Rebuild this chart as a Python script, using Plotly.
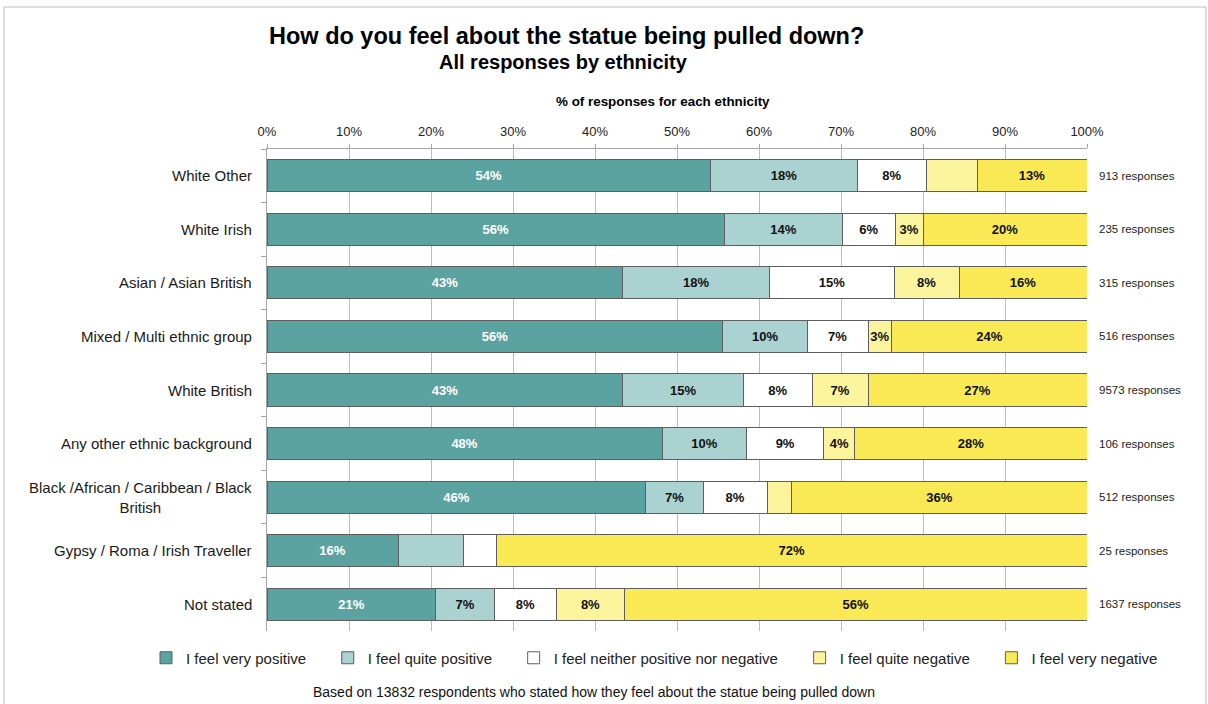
import plotly.graph_objects as go

# Ethnic groups, top to bottom
categories = [
    "White Other",
    "White Irish",
    "Asian / Asian British",
    "Mixed / Multi ethnic group",
    "White British",
    "Any other ethnic background",
    "Black /African / Caribbean / Black British",
    "Gypsy / Roma / Irish Traveller",
    "Not stated",
]
category_labels = [
    "White Other",
    "White Irish",
    "Asian / Asian British",
    "Mixed / Multi ethnic group",
    "White British",
    "Any other ethnic background",
    "Black /African / Caribbean / Black<br>British",
    "Gypsy / Roma / Irish Traveller",
    "Not stated",
]

# Share of responses (%) per feeling
very_positive = [54.1, 55.8, 43.4, 55.6, 43.4, 48.2, 46.2, 16.0, 20.6]
quite_positive = [17.9, 14.4, 17.9, 10.3, 14.7, 10.3, 7.0, 8.0, 7.1]
neither = [8.4, 6.4, 15.2, 7.4, 8.4, 9.4, 7.8, 4.0, 7.6]
quite_negative = [6.2, 3.4, 7.9, 2.9, 6.8, 3.8, 3.0, 0.0, 8.3]
very_negative = [13.4, 20.0, 15.6, 23.8, 26.7, 28.3, 36.0, 72.0, 56.4]

# Which segments carry a percentage label
show_very_positive = [True] * 9
show_quite_positive = [True, True, True, True, True, True, True, False, True]
show_neither = [True, True, True, True, True, True, True, False, True]
show_quite_negative = [False, True, True, True, True, True, False, False, True]
show_very_negative = [True] * 9

responses = [913, 235, 315, 516, 9573, 106, 512, 25, 1637]

x_ticks = list(range(0, 101, 10))
x_tick_labels = [f"{t}%" for t in x_ticks]

series = [
    ("I feel very positive", very_positive, show_very_positive, "#5BA3A0", "white"),
    ("I feel quite positive", quite_positive, show_quite_positive, "#A9D2D0", "#111111"),
    ("I feel neither positive nor negative", neither, show_neither, "#FFFFFF", "#111111"),
    ("I feel quite negative", quite_negative, show_quite_negative, "#FCF49C", "#111111"),
    ("I feel very negative", very_negative, show_very_negative, "#F9EA55", "#111111"),
]

FONT = "Liberation Sans, Arial, Helvetica, sans-serif"
LEGEND_PAD = "\u00a0" * 4  # extra spacing between legend entries

fig = go.Figure()
for name, vals, shows, color, tcolor in series:
    fig.add_trace(go.Bar(
        name=name + LEGEND_PAD,
        y=categories,
        x=vals,
        orientation="h",
        marker=dict(color=color, line=dict(color="#5E5E5E", width=1)),
        text=[f"{v:.0f}%" if s else "" for v, s in zip(vals, shows)],
        textposition="inside",
        insidetextanchor="middle",
        textangle=0,
        constraintext="none",
        textfont=dict(family=FONT, size=13, color=tcolor, weight="bold"),
        cliponaxis=False,
        hoverinfo="skip",
    ))

# plot-area geometry (pixels) used to place text outside the axes
L, R, T, B = 267, 1087, 149, 631
W, H = R - L, B - T


def px(x):
    return (x - L) / W


def py(y):
    return (B - y) / H


annotations = []
for cat, lab, n in zip(categories, category_labels, responses):
    annotations.append(dict(
        x=px(254), xref="paper", y=cat, yref="y", text=lab,
        xanchor="right", yanchor="middle", align="center", showarrow=False,
        font=dict(family=FONT, size=15, color="#1A1A1A"),
    ))
    annotations.append(dict(
        x=px(1097), xref="paper", y=cat, yref="y", text=f"{n} responses",
        xanchor="left", yanchor="middle", align="left", showarrow=False,
        font=dict(family=FONT, size=11.5, color="#222222"),
    ))

annotations += [
    dict(x=px(566), y=py(36), xref="paper", yref="paper", showarrow=False,
         text="<b>How do you feel about the statue being pulled down?</b>",
         xanchor="center", yanchor="middle",
         font=dict(family=FONT, size=23.5, color="#000000")),
    dict(x=px(563), y=py(62), xref="paper", yref="paper", showarrow=False,
         text="<b>All responses by ethnicity</b>",
         xanchor="center", yanchor="middle",
         font=dict(family=FONT, size=20, color="#000000")),
    dict(x=px(663), y=py(102), xref="paper", yref="paper", showarrow=False,
         text="<b>% of responses for each ethnicity</b>",
         xanchor="center", yanchor="middle",
         font=dict(family=FONT, size=13.4, color="#000000")),
    dict(x=px(594), y=py(692), xref="paper", yref="paper", showarrow=False,
         text="Based on 13832 respondents who stated how they feel about the statue being pulled down",
         xanchor="center", yanchor="middle",
         font=dict(family=FONT, size=14, color="#111111")),
]

fig.update_layout(
    width=1208, height=704,
    margin=dict(l=L, r=1208 - R, t=T, b=704 - B, autoexpand=False),
    paper_bgcolor="white", plot_bgcolor="white",
    barmode="stack", bargap=0.40,
    font=dict(family=FONT, size=13, color="#222222"),
    showlegend=True,
    legend=dict(
        orientation="h", xref="paper", yref="paper",
        x=px(146), y=py(658), xanchor="left", yanchor="middle",
        font=dict(family=FONT, size=15, color="#222222"),
        traceorder="normal", itemwidth=30,
    ),
    xaxis=dict(
        side="top", range=[0, 100.0001], tickmode="array",
        tickvals=x_ticks, ticktext=x_tick_labels,
        showgrid=True, gridcolor="#BDBDBD", gridwidth=1,
        showline=True, linecolor="#A6A6A6", linewidth=1,
        ticks="outside", ticklen=4, tickcolor="#A6A6A6",
        ticklabelstandoff=3,
        tickfont=dict(family=FONT, size=13, color="#222222"),
        zeroline=False, fixedrange=True,
    ),
    yaxis=dict(
        categoryorder="array", categoryarray=categories, autorange="reversed",
        showticklabels=False, showline=True, linecolor="#A6A6A6", linewidth=1,
        ticks="outside", tickson="boundaries", ticklen=5, tickcolor="#A6A6A6",
        showgrid=False, zeroline=False, fixedrange=True,
    ),
    annotations=annotations,
    shapes=[dict(
        type="rect", xref="paper", yref="paper",
        x0=px(4), x1=px(1206), y0=py(720), y1=py(7),
        line=dict(color="#BDBDBD", width=1), fillcolor="rgba(0,0,0,0)",
        layer="below",
    )],
)

fig.write_html("out.html")
